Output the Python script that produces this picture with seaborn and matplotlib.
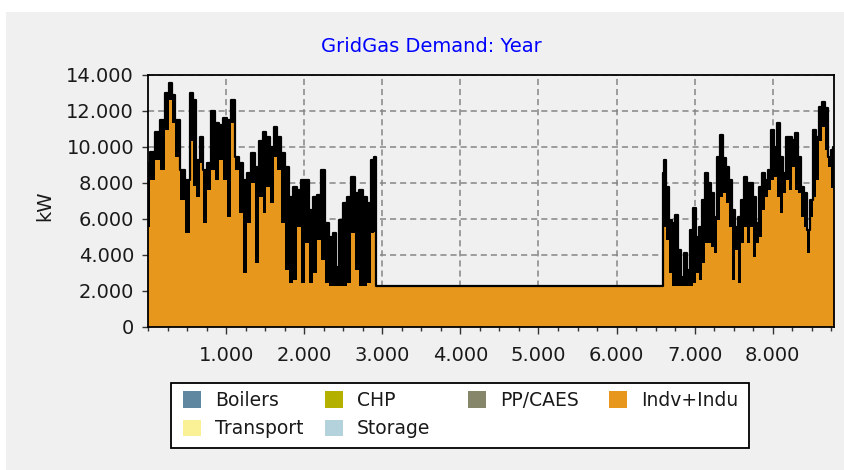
import matplotlib
matplotlib.use("Agg")
import matplotlib.pyplot as plt
import seaborn as sns
import pandas as pd
from matplotlib.patches import Patch, Rectangle
from matplotlib.ticker import FuncFormatter, MultipleLocator, FixedLocator

# ---------------- data ----------------
hours = [0, 64, 128, 192, 256, 282, 320, 384, 448, 512, 563, 602, 640, 679, 730,
         781, 832, 883, 935, 986, 1037, 1088, 1140, 1191, 1242, 1293, 1344, 1396,
         1447, 1498, 1536, 1588, 1626, 1677, 1729, 1780, 1831, 1882, 1933, 1985,
         2036, 2087, 2138, 2190, 2241, 2292, 2343, 2382, 2420, 2471, 2522, 2574,
         2625, 2676, 2727, 2778, 2830, 2881, 2907, 2920, 6590, 6600, 6620, 6658,
         6697, 6735, 6773, 6812, 6850, 6889, 6927, 6965, 7004, 7042, 7081, 7119,
         7157, 7196, 7234, 7273, 7311, 7350, 7388, 7426, 7465, 7503, 7542, 7580,
         7618, 7657, 7695, 7734, 7772, 7810, 7849, 7887, 7926, 7964, 8003, 8041,
         8079, 8118, 8156, 8194, 8233, 8271, 8310, 8348, 8387, 8425, 8463, 8502,
         8540, 8579, 8617, 8655, 8694, 8732, 8771, 8784]

total_kw = [9100, 9730, 10850, 11500, 12990, 13570, 12900, 11500, 8720, 8160,
            12990, 12620, 9280, 10570, 8720, 9100, 11970, 11320, 11230, 11600,
            11500, 12620, 9460, 9100, 8160, 8530, 9650, 8900, 10300, 10850,
            10570, 10010, 11130, 10570, 9650, 8900, 7230, 7790, 7600, 8160,
            8160, 6490, 7230, 7330, 8720, 5750, 5000, 5200, 3330, 5940,
            6870, 7230, 8340, 7420, 7600, 7230, 6870, 9270, 9450, 2250,
            2250, 8530, 9270, 7790, 5940, 5750, 6200, 4260, 2770, 4070,
            3150, 5380, 6590, 5000, 5560, 7050, 8530, 7980, 7420, 6120,
            9460, 10660, 9370, 8900, 8160, 6490, 5560, 6120, 7050, 8340,
            7980, 7970, 7230, 5750, 7790, 8530, 8160, 8720, 10940, 10010,
            11320, 9460, 8530, 10570, 10570, 10380, 10750, 9460, 7790, 7420,
            5370, 7040, 10940, 10570, 12240, 12510, 12150, 9460, 9840, 10010]

indv_indu_kw = [5560, 8160, 9270, 8700, 10940, 12610, 11320, 9460, 7050, 5200,
                10300, 7800, 7230, 9100, 5750, 7600, 8720, 8160, 9280, 8160,
                6120, 11320, 8720, 6310, 2960, 5750, 7980, 3520, 7230, 6310,
                7790, 6860, 9460, 8720, 5750, 3150, 2400, 2600, 5560, 2400,
                4630, 2400, 2960, 4820, 3700, 2400, 2250, 2250, 2250, 2250,
                2250, 2400, 5200, 3150, 2250, 2250, 2400, 5200, 5260, 2250,
                2250, 5560, 5560, 4820, 2960, 2250, 2250, 2250, 2250, 2250,
                2250, 2250, 2400, 2960, 2600, 3520, 4630, 4630, 4450, 4070,
                5940, 7230, 7420, 6870, 5560, 2600, 4260, 2400, 4630, 5560,
                4630, 5560, 3890, 4630, 5000, 6500, 7230, 7600, 8160, 8340,
                7230, 6310, 7420, 8160, 7600, 8900, 7600, 7420, 6120, 5560,
                4070, 6120, 7230, 8160, 10300, 11130, 9840, 8900, 7700, 7600]

x_ticks = [1000, 2000, 3000, 4000, 5000, 6000, 7000, 8000]
y_ticks = [0, 2000, 4000, 6000, 8000, 10000, 12000, 14000]

legend_columns = [
    [("Boilers", "#5F87A0"), ("Transport", "#FAF096")],
    [("CHP", "#B4B000"), ("Storage", "#B4D2DC")],
    [("PP/CAES", "#86866A")],
    [("Indv+Indu", "#E8971D")],
]

title_text = "GridGas Demand: Year"
y_label = "kW"

# ---------------- style ----------------
sns.set_theme(style="ticks")
plt.rcParams["font.family"] = ["DejaVu Sans"]
FS = 14
W, H = 845, 470

fig = plt.figure(figsize=(W / 100, H / 100), dpi=100, facecolor="white")
fig.patches.append(Rectangle((6 / W, 0), 1, 458 / H, transform=fig.transFigure,
                             facecolor="#F0F0F0", edgecolor="none", zorder=-10))

ax = fig.add_axes([148 / W, 143.5 / H, 686 / W, 251.5 / H])
ax.set_facecolor("#F0F0F0")

df = pd.DataFrame({"hour": hours, "total": total_kw, "indv": indv_indu_kw})
ax.fill_between(df["hour"], 0, df["indv"], step="mid", color="#E8971D",
                lw=0, zorder=2)
ax.fill_between(df["hour"], df["indv"], df["total"], step="mid", color="black",
                lw=0, zorder=2)
sns.lineplot(data=df, x="hour", y="total", drawstyle="steps-mid", color="black",
             lw=1.6, estimator=None, sort=False, ax=ax, zorder=3)

ax.set_xlim(0, 8784)
ax.set_ylim(0, 14000)
ax.xaxis.set_major_locator(FixedLocator(x_ticks))
ax.xaxis.set_minor_locator(MultipleLocator(250))
ax.yaxis.set_major_locator(FixedLocator(y_ticks))
fmt = FuncFormatter(lambda v, p: f"{int(round(v)):,}".replace(",", "."))
ax.xaxis.set_major_formatter(fmt)
ax.yaxis.set_major_formatter(fmt)

ax.set_axisbelow(True)
ax.grid(True, which="major", color="#858585", linestyle=(0, (4, 2.6)), lw=1.1)

for s in ax.spines.values():
    s.set_visible(True)
    s.set_color("black")
    s.set_linewidth(1.3)
    s.set_zorder(4)

ax.tick_params(axis="both", which="major", direction="out", length=4, width=1,
               color="#333333", labelsize=FS, labelcolor="#1a1a1a")
ax.tick_params(axis="x", which="major", length=5, pad=9)
ax.tick_params(axis="y", which="major", pad=6)
ax.tick_params(axis="x", which="minor", direction="out", length=3, width=1,
               color="#333333")

ax.set_xlabel("")
ax.set_ylabel(y_label, fontsize=FS, color="#1a1a1a")
ax.yaxis.set_label_coords((54 - 148) / 686, 0.48)

fig.text(431 / W, 1 - 46 / H, title_text, ha="center", va="center",
         color="#0000FF", fontsize=FS)

# legend box
fig.patches.append(Rectangle((171 / W, 1 - 448 / H), 578 / W, 65 / H,
                             transform=fig.transFigure, facecolor="white",
                             edgecolor="black", lw=1.3, zorder=5))
LFS = 13.5
col_x = [183, 325, 468, 609]
for cx, entries in zip(col_x, legend_columns):
    handles = [Patch(facecolor=c, edgecolor="none") for _, c in entries]
    labels = [l for l, _ in entries]
    leg = fig.legend(handles, labels, loc="upper left",
                     bbox_to_anchor=(cx / W, 1 - 391 / H), frameon=False,
                     fontsize=LFS, borderpad=0, borderaxespad=0,
                     handlelength=0.95, handleheight=0.95, handletextpad=0.75,
                     labelspacing=0.5)
    leg.set_zorder(6)
    for t in leg.get_texts():
        t.set_color("#1a1a1a")

fig.savefig("out.png", dpi=100, facecolor=fig.get_facecolor())
